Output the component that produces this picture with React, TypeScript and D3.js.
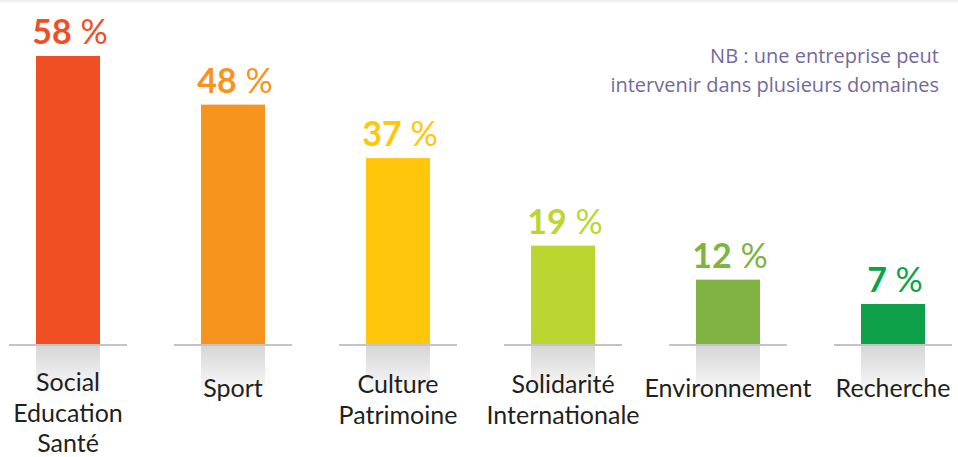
import React from "react";
import * as d3 from "d3";

const categories: string[][] = [
  ["Social", "Education", "Santé"],
  ["Sport"],
  ["Culture", "Patrimoine"],
  ["Solidarité", "Internationale"],
  ["Environnement"],
  ["Recherche"],
];
const values: number[] = [58, 48, 37, 19, 12, 7];
const colors: string[] = ["#F04E23", "#F7941D", "#FFC60B", "#BCD631", "#80B341", "#0FA04A"];
const noteLines: string[] = ["NB : une entreprise peut", "intervenir dans plusieurs domaines"];

const W = 958;
const H = 457;
const BASE = 345;
const BAR_W = 64;
const FONT = "Lato, 'Open Sans', sans-serif";

export default function App() {
  const keys = categories.map((c) => c.join(" "));
  const x = d3.scalePoint<string>().domain(keys).range([68, 893]);
  const y = d3.scaleLinear().domain([0, 58]).range([BASE - 7, 56]);

  return (
    <svg width={W} height={H} style={{ position: "absolute", left: 0, top: 0, background: "#fff" }}>
      <defs>
        <linearGradient id="shadow" x1="0" y1="0" x2="0" y2="1">
          <stop offset="0" stopColor="#d6d6d6" />
          <stop offset="1" stopColor="#ffffff" />
        </linearGradient>
        <linearGradient id="topband" x1="0" y1="0" x2="0" y2="1">
          <stop offset="0" stopColor="#ececec" />
          <stop offset="1" stopColor="#ffffff" />
        </linearGradient>
      </defs>
      <rect x={0} y={0} width={W} height={4} fill="url(#topband)" />
      {keys.map((k, i) => {
        const cx = x(k)!;
        const top = y(values[i]);
        const lines = categories[i];
        const firstBase = lines.length === 1 ? 397 : lines.length === 2 ? 393 : 391;
        const step = lines.length === 3 ? 30.5 : 31;
        return (
          <g key={k}>
            <rect x={cx - BAR_W / 2} y={BASE + 1} width={BAR_W} height={52} fill="url(#shadow)" />
            <rect x={cx - BAR_W / 2} y={top} width={BAR_W} height={BASE - top} fill={colors[i]} />
            <line x1={cx - BAR_W / 2 - 27} x2={cx + BAR_W / 2 + 27} y1={BASE} y2={BASE} stroke="#c4c4c4" strokeWidth={2} />
            <text x={cx + 2} y={top - 12} textAnchor="middle" fill={colors[i]} fontFamily={FONT} fontSize={34}>
              <tspan fontWeight={700}>{values[i]}</tspan>
              <tspan fontWeight={400}> %</tspan>
            </text>
            <text textAnchor="middle" fill="#231f20" fontFamily={FONT} fontSize={25}>
              {lines.map((l, j) => (
                <tspan key={j} x={cx} y={firstBase + j * step}>
                  {l}
                </tspan>
              ))}
            </text>
          </g>
        );
      })}
      <text textAnchor="end" fill="#75699b" fontFamily="'Open Sans', sans-serif" fontSize={20}>
        {noteLines.map((l, j) => (
          <tspan key={j} x={939} y={63 + j * 29}>
            {l}
          </tspan>
        ))}
      </text>
    </svg>
  );
}
